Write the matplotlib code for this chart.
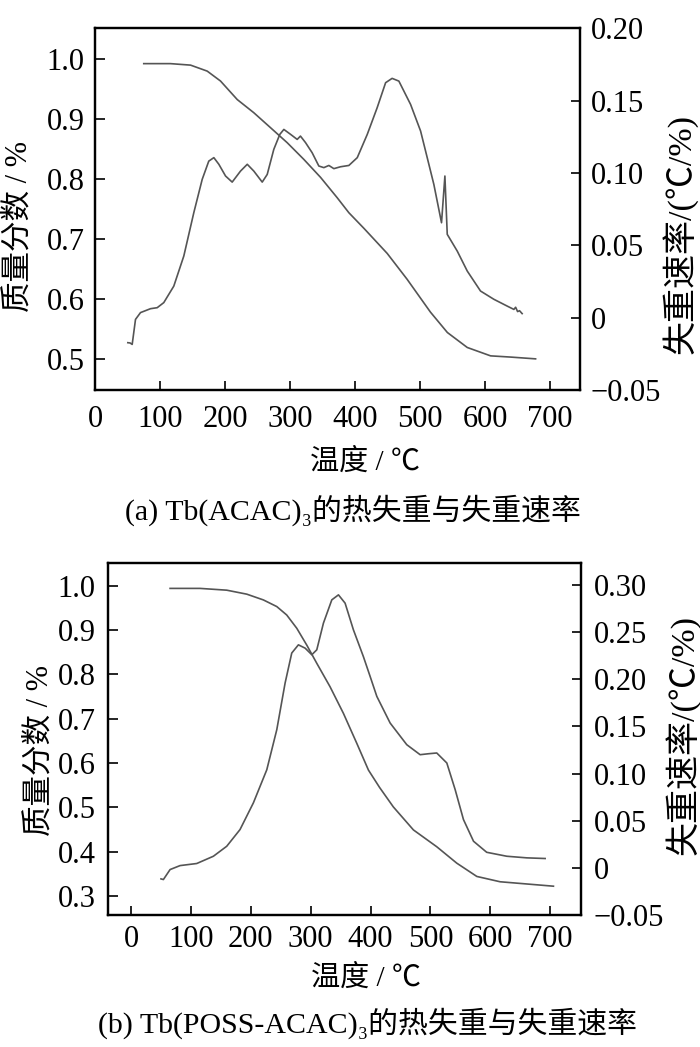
import matplotlib
matplotlib.use('Agg')
import matplotlib.pyplot as plt

plt.rcParams['font.family'] = ['Liberation Serif', 'Noto Sans CJK SC', 'DejaVu Serif']
plt.rcParams['axes.unicode_minus'] = True

# (a) Tb(ACAC)3 - mass fraction
t_a_tg = [75, 116, 147, 172.6, 193, 218.8, 244.3, 270, 295.6, 321.3, 347, 372.6,
          390.5, 413.6, 449.5, 480, 516, 542, 572.6, 608.5, 639, 677.7]
m_a = [0.993, 0.993, 0.9905, 0.9805, 0.964, 0.933, 0.911, 0.886, 0.861, 0.833,
       0.803, 0.769, 0.744, 0.718, 0.676, 0.633, 0.578, 0.544, 0.519, 0.505,
       0.503, 0.500]

# (a) weight loss rate
t_a_dtg = [50.5, 54, 57.2, 62.3, 70, 85.4, 95.7, 105.8, 121.2, 136.6, 152, 164.9,
           175, 182.8, 190.5, 200.8, 211, 223.8, 234.2, 244.3, 257.2, 264.9, 275,
           284.3, 290.5, 300.8, 311, 316, 323.8, 334, 344.3, 352, 359.7, 367.4,
           377.7, 390.5, 403.4, 418.8, 434, 447, 457, 467.4, 485.4, 500.8, 511,
           521.2, 533, 538.2, 541.8, 557.2, 572.6, 593, 613.5, 634, 644.3, 647,
           650, 653, 657]
r_a = [-0.0173, -0.0175, -0.0185, -0.0012, 0.0035, 0.0062, 0.0069, 0.0104, 0.0218,
       0.0426, 0.0726, 0.0956, 0.1082, 0.1106, 0.106, 0.0979, 0.0937, 0.1013,
       0.106, 0.1013, 0.0937, 0.099, 0.1163, 0.1267, 0.1301, 0.1267, 0.1232,
       0.1255, 0.121, 0.114, 0.1048, 0.1037, 0.1052, 0.1030, 0.1043, 0.1052,
       0.1106, 0.1267, 0.1451, 0.1624, 0.1654, 0.1635, 0.1474, 0.129, 0.1106,
       0.0921, 0.0656, 0.0979, 0.0576, 0.046, 0.0322, 0.0184, 0.0127, 0.008,
       0.0057, 0.0072, 0.0042, 0.0048, 0.0028]

# (b) Tb(POSS-ACAC)3 - mass fraction
t_b_tg = [65.2, 115.3, 159.8, 193.3, 221, 243.4, 260, 276.8, 293.5, 310.2, 332.4,
          354.7, 377, 396.5, 415, 438, 471.6, 510.6, 544, 577.5, 616.4, 661, 705.5]
m_b = [0.994, 0.994, 0.990, 0.981, 0.968, 0.953, 0.934, 0.904, 0.866, 0.825,
       0.772, 0.712, 0.6445, 0.584, 0.545, 0.501, 0.449, 0.411, 0.374, 0.344,
       0.332, 0.327, 0.322]

# (b) weight loss rate
t_b_dtg = [50, 54, 65.2, 81.9, 109.7, 137.5, 159.8, 182, 204.3, 226.7, 243.4,
           257.3, 268.4, 279.5, 290.7, 301.9, 310.2, 321.3, 335.3, 346.4, 357.5,
           371.4, 388, 399.3, 410.5, 432.7, 460.5, 482.8, 496.7, 510.6, 527.4,
           541.3, 555.2, 572, 594, 627.6, 661, 691.6]
r_b = [-0.0117, -0.0124, -0.0018, 0.0024, 0.0046, 0.0123, 0.0229, 0.0406, 0.0689,
       0.104, 0.1465, 0.196, 0.2278, 0.2365, 0.233, 0.226, 0.2312, 0.2595,
       0.2842, 0.2895, 0.2807, 0.2524, 0.2241, 0.203, 0.1818, 0.1536, 0.1306,
       0.12, 0.121, 0.1218, 0.1112, 0.083, 0.0512, 0.0282, 0.0165, 0.0123,
       0.0106, 0.0099]

x_ticks = [0, 100, 200, 300, 400, 500, 600, 700]
ya_ticks = [0.5, 0.6, 0.7, 0.8, 0.9, 1.0]
ya_r_ticks = [-0.05, 0, 0.05, 0.10, 0.15, 0.20]
ya_r_labels = ['\u22120.05', '0', '0.05', '0.10', '0.15', '0.20']
yb_ticks = [0.3, 0.4, 0.5, 0.6, 0.7, 0.8, 0.9, 1.0]
yb_r_ticks = [-0.05, 0, 0.05, 0.10, 0.15, 0.20, 0.25, 0.30]
yb_r_labels = ['\u22120.05', '0', '0.05', '0.10', '0.15', '0.20', '0.25', '0.30']

W, H = 700, 1047
fig = plt.figure(figsize=(7, 10.47), dpi=100)


def box(l, t, r, b):
    return [l / W, 1 - b / H, (r - l) / W, (b - t) / H]


def px(x, y):
    return x / W, 1 - y / H


line_c = '#555555'
tick_fs = 22


def style(ax, axr, xpad, lpad, rpad):
    for a in (ax, axr):
        for s in a.spines.values():
            s.set_linewidth(1.6)
    ax.tick_params(axis='x', direction='in', length=6.5, width=1.2,
                   labelsize=tick_fs, pad=xpad)
    ax.tick_params(axis='y', direction='in', length=7, width=1.2,
                   labelsize=tick_fs, pad=lpad)
    axr.tick_params(axis='y', direction='in', length=6.5, width=1.2,
                    labelsize=tick_fs, pad=rpad)


# ---- panel (a)
ax1 = fig.add_axes(box(95, 28.3, 580, 390))
ax1r = ax1.twinx()
ax1.plot(t_a_tg, m_a, color=line_c, lw=1.2)
ax1r.plot(t_a_dtg, r_a, color=line_c, lw=1.2)
ax1.set_xlim(0, 746)
ax1.set_ylim(0.448, 1.052)
ax1r.set_ylim(-0.05, 0.20)
ax1.set_xticks(x_ticks)
ax1.set_yticks(ya_ticks)
ax1.set_yticklabels([f'{v:.1f}' for v in ya_ticks])
ax1r.set_yticks(ya_r_ticks)
ax1r.set_yticklabels(ya_r_labels)
style(ax1, ax1r, 10.5, 7.5, 7.5)

fig.text(*px(365, 462), '温度 / ℃', fontsize=21, ha='center', va='center')
fig.text(*px(353, 510), '(a) Tb(ACAC)\u2083的热失重与失重速率', fontsize=21.5,
         ha='center', va='center')
fig.text(*px(19, 227), '质量分数 / %', fontsize=22, rotation=90,
         ha='center', va='center')
fig.text(*px(680, 234), '失重速率/(℃/%)', fontsize=24.5, rotation=90,
         ha='center', va='center')

# ---- panel (b)
ax2 = fig.add_axes(box(108.3, 562.7, 580.7, 915))
ax2r = ax2.twinx()
ax2.plot(t_b_tg, m_b, color=line_c, lw=1.2)
ax2r.plot(t_b_dtg, r_b, color=line_c, lw=1.2)
ax2.set_xlim(-38, 751)
ax2.set_ylim(0.257, 1.052)
ax2r.set_ylim(-0.05, 0.3236)
ax2.set_xticks(x_ticks)
ax2.set_yticks(yb_ticks)
ax2.set_yticklabels([f'{v:.1f}' for v in yb_ticks])
ax2r.set_yticks(yb_r_ticks)
ax2r.set_yticklabels(yb_r_labels)
style(ax2, ax2r, 7.5, 9, 9.5)

fig.text(*px(366, 978), '温度 / ℃', fontsize=21, ha='center', va='center')
fig.text(*px(368, 1023), '(b) Tb(POSS-ACAC)\u2083的热失重与失重速率', fontsize=21.5,
         ha='center', va='center')
fig.text(*px(40, 750), '质量分数 / %', fontsize=22, rotation=90,
         ha='center', va='center')
fig.text(*px(683, 735), '失重速率/(℃/%)', fontsize=24.5, rotation=90,
         ha='center', va='center')

fig.savefig('out.png', dpi=100)
